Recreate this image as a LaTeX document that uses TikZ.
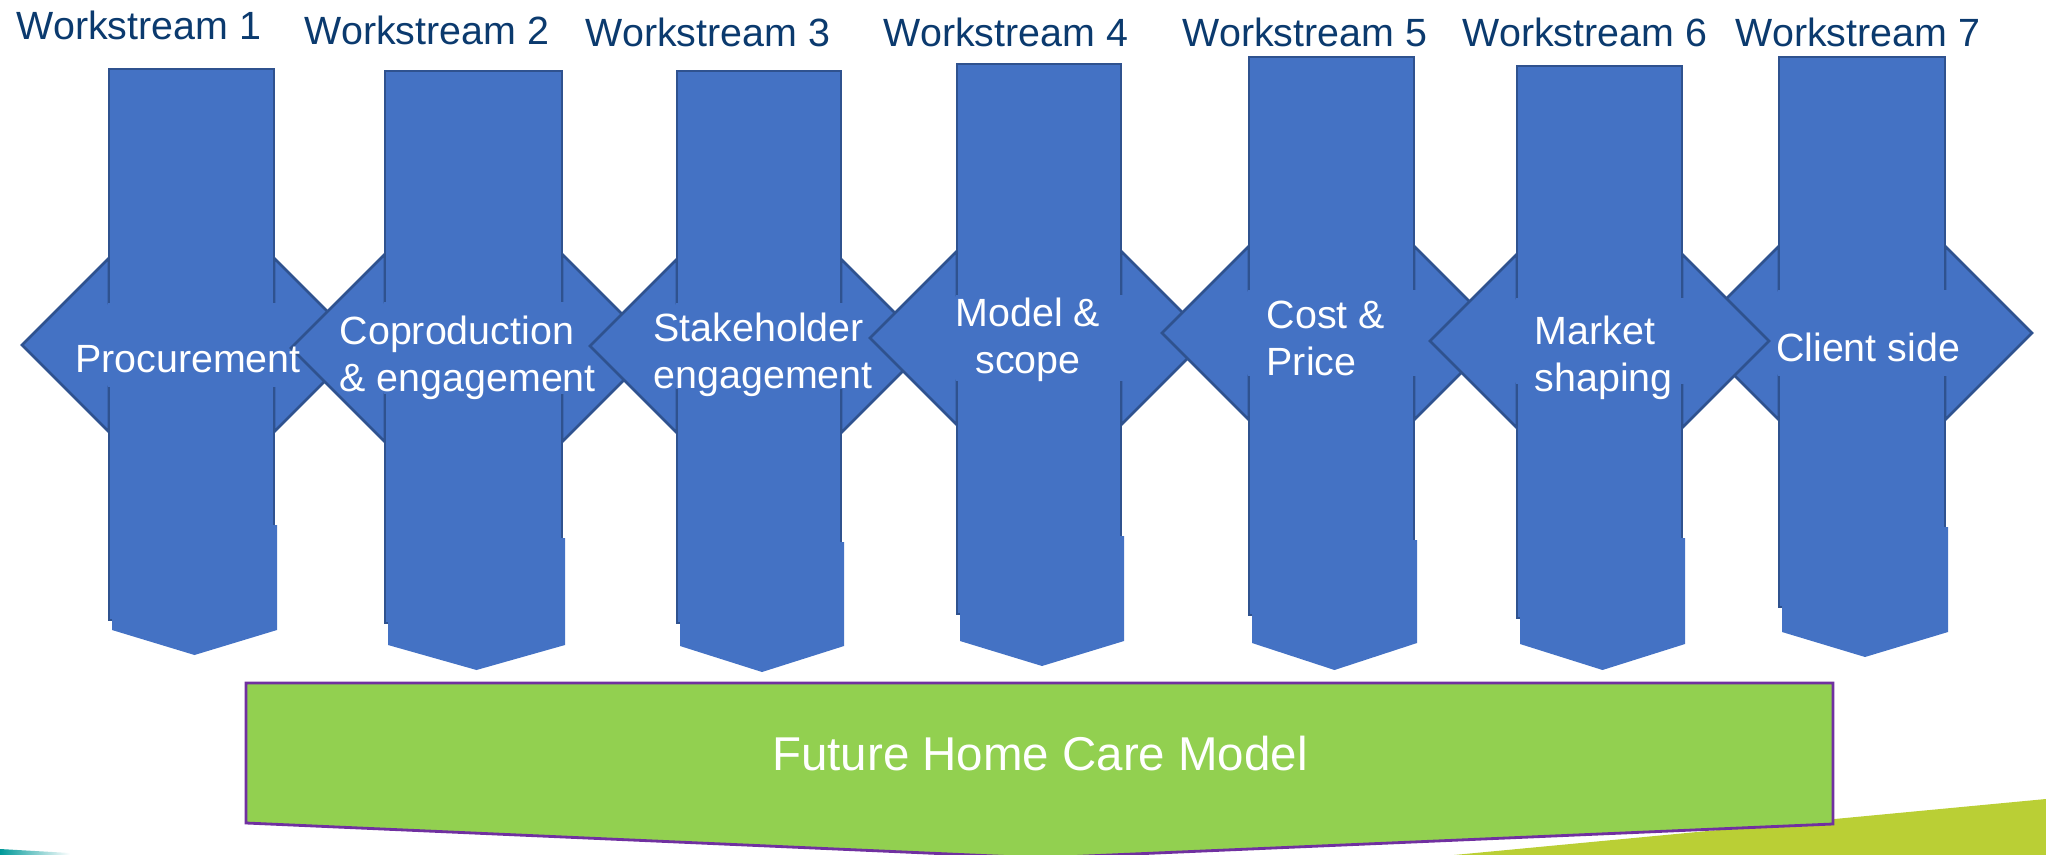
\documentclass[tikz,border=0pt]{standalone}
\usepackage{fontspec}
\setmainfont{Liberation Sans}
\definecolor{wsblue}{HTML}{4472C4}
\definecolor{wsedge}{HTML}{2F528F}
\definecolor{wsnavy}{HTML}{0B3A6E}
\definecolor{modelgreen}{HTML}{92D050}
\definecolor{modeledge}{HTML}{7030A0}
\definecolor{swoosh}{HTML}{BACF35}
\tikzset{>=latex}
\tikzset{
  wsshape/.style={fill=wsblue, draw=wsedge, line width=0.75pt},
  wspatch/.style={fill=wsblue},
  wslabel/.style={anchor=base west, inner sep=0pt, text=wsnavy, font=\fontsize{11.2}{13.4}\selectfont},
  wstext/.style={inner sep=0pt, text=white, font=\fontsize{11.2}{13.4}\selectfont},
}

\begin{document}
\begin{tikzpicture}[x=0.01cm, y=-0.01cm]
      \useasboundingbox (0,0) rectangle (2046,855);
      \clip (0,0) rectangle (2046,855);
      % slide decoration in the corners
      \fill[swoosh] (1380,862) -- (2046,799) -- (2046,862) -- cycle;
      \shade[left color=teal!80!cyan, right color=white] (0,849) -- (70,853) -- (70,856) -- (0,856) -- cycle;
      % one workstream per entry: left, right, top, arrow centre, head, shaft, foot, edge end, shoulder, tip
      \foreach \l/\r/\t/\c/\h/\s/\p/\b/\q/\v in {109/274/69/345/87/42/525/620/630/655,
                                              385/562/71/348/94/46/538/623/645/670,
                                              677/841/71/346/87/43/542/623/646/672,
                                              957/1121/64/338/87/43/536/614/641/666,
                                              1249/1414/57/333/87/43/540/615/643/670,
                                              1779/1945/57/333/87/43/527/607/632/657,
                                              1517/1682/66/341/87/43/538/618/644/670}{
        \draw[wsshape] (\l-\h,\c) -- (\l,\c-\h) -- (\l,\c-\s) -- (\r,\c-\s) -- (\r,\c-\h) -- (\r+\h,\c)
                       -- (\r,\c+\h) -- (\r,\c+\s) -- (\l,\c+\s) -- (\l,\c+\h) -- cycle;
        \draw[wsshape] (\l,\t) rectangle (\r,\b);
        \fill[wspatch] (\l-1.5,\c-\s) rectangle (\r+1.5,\c+\s);
        \fill[wspatch] (\l+3,\p) -- (\r+3,\p) -- (\r+3,\q) -- ({(\l+\r)/2+3},\v) -- (\l+3,\q) -- cycle;
      }
      % headings
      \foreach \i/\x/\y in {1/16/40, 2/304/45, 3/585/47, 4/883/47, 5/1182/47, 6/1462/47, 7/1735/47}
        \node[wslabel] (ws\i) at (\x,\y) {Workstream \i};
      % texts on the arrows
      \node[wstext, anchor=base] (t1) at (188,373) {Procurement};
      \node[wstext, anchor=north west, align=left] (t2) at (339,315) {Coproduction\\\& engagement};
      \node[wstext, anchor=north west, align=left] (t3) at (653,312) {Stakeholder\\engagement};
      \node[wstext, anchor=north, align=center] (t4) at (1028,297) {Model \&\\scope};
      \node[wstext, anchor=north west, align=left] (t5) at (1266,300) {Cost \&\\Price};
      \node[wstext, anchor=north west, align=left] (t6) at (1534,315) {Market\\shaping};
      \node[wstext, anchor=base] (t7) at (1868,361) {Client side};
      % where it all ends up
      \draw[fill=modelgreen, draw=modeledge, line width=0.8pt] (246,683) -- (1833,683) -- (1833,824) -- (1040,858) -- (246,823) -- cycle;
      \node[inner sep=0pt, anchor=base, text=white, font=\fontsize{13.5}{16}\selectfont] (model) at (1040,770) {Future Home Care Model};
\end{tikzpicture}
\end{document}
